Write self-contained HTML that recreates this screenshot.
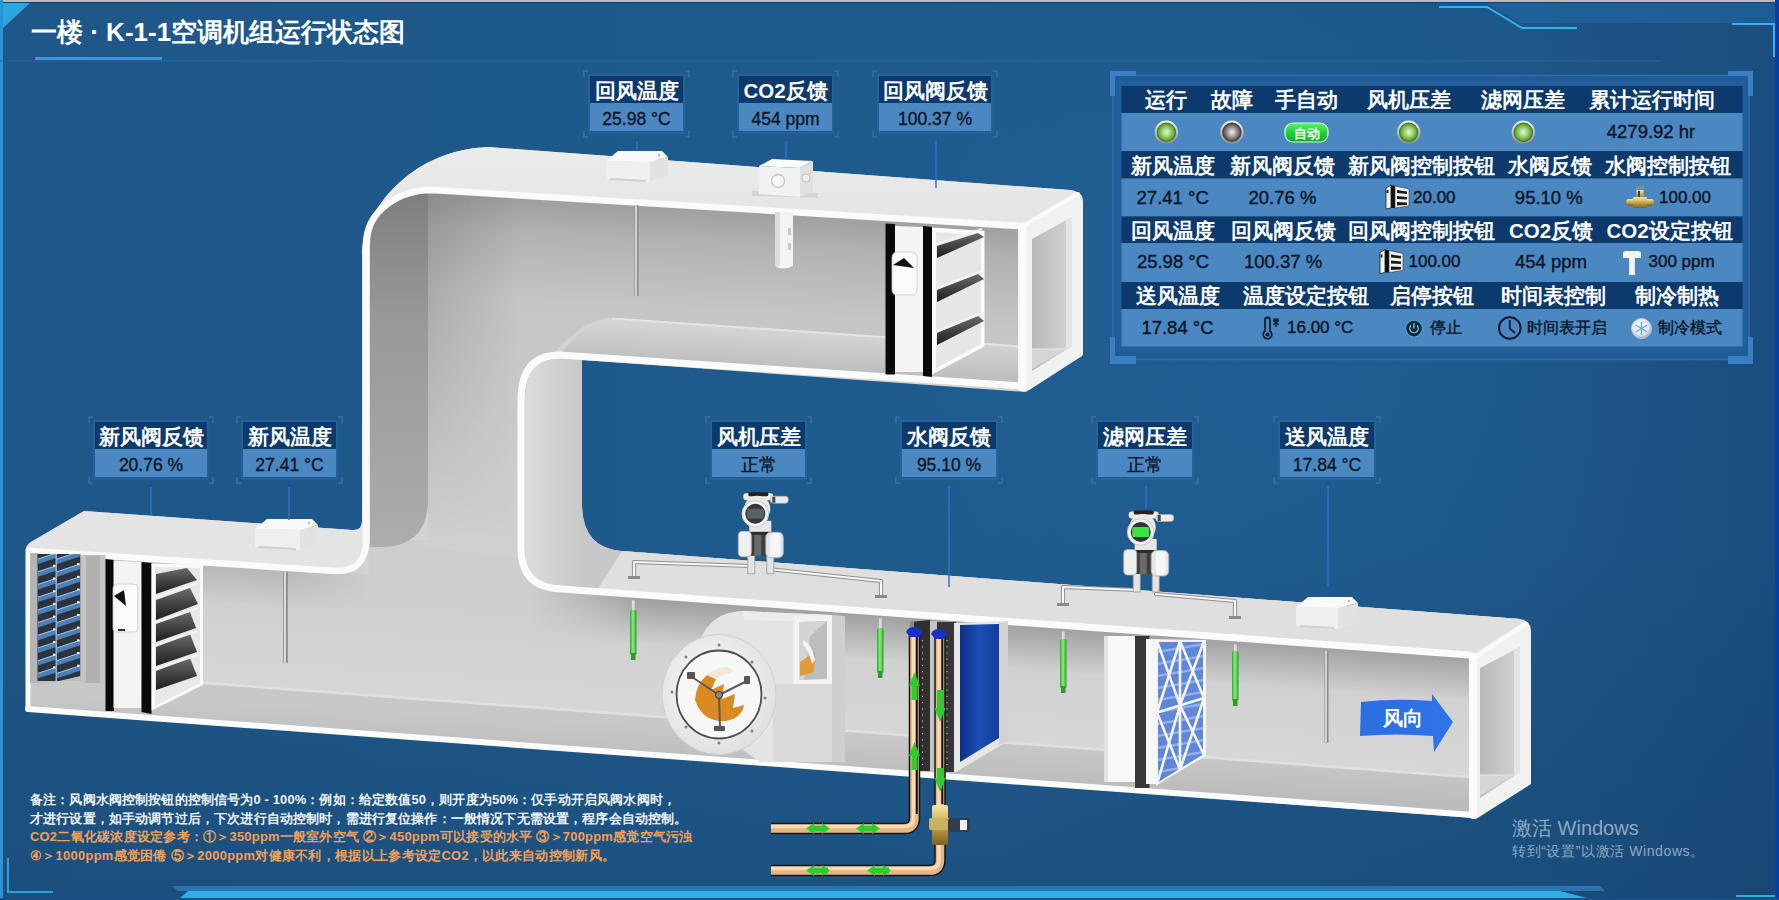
<!DOCTYPE html>
<html><head><meta charset="utf-8">
<style>
html,body{margin:0;padding:0}
body{width:1779px;height:900px;overflow:hidden;position:relative;background:#1e5a8e;font-family:"Liberation Sans",sans-serif}
.a{position:absolute}
.t{position:absolute;white-space:nowrap;text-align:center}
.hd{color:#fff;font-weight:bold;font-size:20.5px;line-height:27px}
.vl{color:#081426;font-size:18.5px;line-height:38px;-webkit-text-stroke:0.35px #081426}
.lb{position:absolute}
.lb .h{position:absolute;left:0;right:0;top:0;height:27px;background:#0c3a6c;color:#fff;font-weight:bold;font-size:20.5px;line-height:30px;text-align:center;white-space:nowrap}
.lb .v{position:absolute;left:0;right:0;top:27px;height:28px;background:#4b87c0;color:#081426;font-size:17.5px;line-height:32px;text-align:center;white-space:nowrap;-webkit-text-stroke:0.3px #081426}
.note{position:absolute;left:30px;font-size:12.9px;font-weight:bold;white-space:nowrap;line-height:18px}
</style></head><body><svg class="a" style="left:0;top:0" width="1779" height="900" viewBox="0 0 1779 900">
<defs>
 <linearGradient id="bg" x1="0" y1="0" x2="1" y2="0">
  <stop offset="0" stop-color="#1e5788"/>
  <stop offset="0.55" stop-color="#1f5b8e"/>
  <stop offset="0.85" stop-color="#1d5687"/>
  <stop offset="1" stop-color="#1a4e7e"/>
 </linearGradient>
 <linearGradient id="bgv" x1="0" y1="0" x2="0" y2="1">
  <stop offset="0" stop-color="#000" stop-opacity="0"/>
  <stop offset="0.6" stop-color="#000" stop-opacity="0"/>
  <stop offset="1" stop-color="#00081a" stop-opacity="0.1"/>
 </linearGradient>
 <radialGradient id="bgr" cx="1300" cy="330" r="420" gradientUnits="userSpaceOnUse">
  <stop offset="0" stop-color="#2a70b0" stop-opacity="0.25"/>
  <stop offset="1" stop-color="#2a70b0" stop-opacity="0"/>
 </radialGradient>
</defs>
<rect width="1779" height="900" fill="url(#bg)"/>
<rect width="1779" height="900" fill="url(#bgr)"/>
<rect width="1779" height="900" fill="url(#bgv)"/>
<polygon points="1487,3 1775,3 1775,23 1520,23" fill="#2268a8" opacity="0.55"/>
<polyline points="1439,7 1487,7 1522,28 1577,28" fill="none" stroke="#2ab4ec" stroke-width="2"/>
<!-- frame -->
<rect x="0" y="0" width="1779" height="2" fill="#b9bcc0"/>
<rect x="0" y="2" width="1779" height="1" fill="#0d3f78"/>
<rect x="0" y="0" width="3" height="900" fill="#2a95d2"/>
<rect x="1775" y="0" width="4" height="900" fill="#0a3fa0"/>
<polygon points="3,3 30,3 3,28" fill="#2aa7e0"/>
<line x1="0" y1="61" x2="1660" y2="61" stroke="#2a62a0" stroke-width="1"/>
<rect x="35" y="57" width="127" height="3" fill="#2a9fe0"/>
<polyline points="1732,24 1774,24 1774,57" fill="none" stroke="#3ab0ee" stroke-width="2"/>
<polyline points="8,858 8,892 53,892" fill="none" stroke="#2aa0dc" stroke-width="2"/>
<polygon points="172,886 1600,886 1605,891 178,891" fill="#2a74b4"/>
<polygon points="188,891 1560,891 1587,898 180,898" fill="#2bb0e6"/>
<rect x="0" y="898" width="1779" height="2" fill="#1a4f86"/>
<rect x="1736" y="895" width="39" height="2" fill="#2bb0e6"/>
</svg>
<svg class="a" style="left:0;top:0" width="1779" height="900" viewBox="0 0 1779 900">
<defs>
 <linearGradient id="topS" gradientUnits="userSpaceOnUse" x1="0" y1="140" x2="0" y2="230">
  <stop offset="0" stop-color="#ececec"/><stop offset="1" stop-color="#e4e4e4"/>
 </linearGradient>
 <linearGradient id="backG" gradientUnits="userSpaceOnUse" x1="700" y1="200" x2="680" y2="560">
  <stop offset="0" stop-color="#9a9a9a"/><stop offset="0.12" stop-color="#b2b2b2"/><stop offset="0.3" stop-color="#c5c5c5"/><stop offset="1" stop-color="#d0d0d0"/>
 </linearGradient>
 <linearGradient id="backL" gradientUnits="userSpaceOnUse" x1="428" y1="0" x2="520" y2="0">
  <stop offset="0" stop-color="#000" stop-opacity="0.13"/><stop offset="1" stop-color="#000" stop-opacity="0"/>
 </linearGradient>
 <linearGradient id="riserSide" gradientUnits="userSpaceOnUse" x1="0" y1="190" x2="0" y2="548">
  <stop offset="0" stop-color="#7e7e7e"/><stop offset="0.35" stop-color="#989898"/><stop offset="1" stop-color="#adadad"/>
 </linearGradient>
 <linearGradient id="lowBack" gradientUnits="userSpaceOnUse" x1="1000" y1="622" x2="992" y2="742">
  <stop offset="0" stop-color="#cecece"/><stop offset="0.3" stop-color="#d0d0d0"/><stop offset="1" stop-color="#d7d7d7"/>
 </linearGradient>
 <linearGradient id="lowFloor" gradientUnits="userSpaceOnUse" x1="1000" y1="742" x2="998" y2="781">
  <stop offset="0" stop-color="#c8c8c8"/><stop offset="1" stop-color="#bcbcbc"/>
 </linearGradient>
 <linearGradient id="cSurf" gradientUnits="userSpaceOnUse" x1="525" y1="0" x2="582" y2="0">
  <stop offset="0" stop-color="#dcdcdc"/><stop offset="0.6" stop-color="#d0d0d0"/><stop offset="1" stop-color="#c8c8c8"/>
 </linearGradient>
 <linearGradient id="upFloor" gradientUnits="userSpaceOnUse" x1="800" y1="332" x2="798" y2="372">
  <stop offset="0" stop-color="#d4d4d4"/><stop offset="1" stop-color="#bcbcbc"/>
 </linearGradient>
<linearGradient id="endG" gradientUnits="userSpaceOnUse" x1="1032" y1="0" x2="1072" y2="0"><stop offset="0" stop-color="#b9b9b9"/><stop offset="1" stop-color="#d3d3d3"/></linearGradient>
<linearGradient id="endG2" gradientUnits="userSpaceOnUse" x1="1480" y1="0" x2="1520" y2="0"><stop offset="0" stop-color="#b9b9b9"/><stop offset="1" stop-color="#d3d3d3"/></linearGradient>
<linearGradient id="shR" gradientUnits="userSpaceOnUse" x1="1000" y1="624" x2="997" y2="668"><stop offset="0" stop-color="#000" stop-opacity="0.22"/><stop offset="1" stop-color="#000" stop-opacity="0"/></linearGradient>
<linearGradient id="shL" gradientUnits="userSpaceOnUse" x1="200" y1="562" x2="197.4" y2="602"><stop offset="0" stop-color="#000" stop-opacity="0.12"/><stop offset="1" stop-color="#000" stop-opacity="0"/></linearGradient>
<linearGradient id="mkRg" gradientUnits="userSpaceOnUse" x1="530" y1="0" x2="640" y2="0"><stop offset="0" stop-color="#fff" stop-opacity="0"/><stop offset="1" stop-color="#fff" stop-opacity="1"/></linearGradient>
<mask id="mkR"><rect x="0" y="0" width="1779" height="900" fill="url(#mkRg)"/></mask>
<linearGradient id="mkLg" gradientUnits="userSpaceOnUse" x1="290" y1="0" x2="369" y2="0"><stop offset="0" stop-color="#fff" stop-opacity="1"/><stop offset="1" stop-color="#fff" stop-opacity="0"/></linearGradient>
<mask id="mkL"><rect x="0" y="0" width="1779" height="900" fill="url(#mkLg)"/></mask>
<linearGradient id="mkVg" gradientUnits="userSpaceOnUse" x1="0" y1="300" x2="0" y2="540"><stop offset="0" stop-color="#fff"/><stop offset="1" stop-color="#fff" stop-opacity="0"/></linearGradient>
<mask id="mkV"><rect x="0" y="0" width="1779" height="900" fill="url(#mkVg)"/></mask>
</defs>
<!-- base silhouette -->
<path d="M84 511 L352 530 Q362 531 362 521 L362 255 C362 212 410 152 482 147.5 L488 147 L1070 190 Q1082 191 1082 203 L1082 356 L1026 392 L582 360 L582 504 Q582 548 622 551 L1520 619 Q1530 620 1530 630 L1530 784 L1475 818 L26 710 L26 550 Q26 545 31 542 Z" fill="#d3d3d3"/>
<!-- lower duct back wall -->
<path d="M30 552 L369 575 L369 540 L560 540 L560 592 L1469 657 L1469 777 L30 670 Z" fill="url(#lowBack)"/>
<!-- riser + upper back wall -->
<path d="M428 189 L1020 225 L1020 346 L612 318 Q585 318 555 352 L524 395 L524 560 Q480 552 440 549 L428 547 Z" fill="url(#backG)"/>
<path d="M428 189 L524 195 L524 545 L428 545 Z" fill="url(#backL)" mask="url(#mkV)"/>
<path d="M530 588 L1469 655 L1469 705 L530 638 Z" fill="url(#shR)" mask="url(#mkR)"/>
<path d="M30 550 L369 573 L369 620 L30 597 Z" fill="url(#shL)" mask="url(#mkL)"/>
<!-- lower floor -->
<path d="M30 670 L1469 777 L1469 816 L30 708 Z" fill="url(#lowFloor)"/>
<path d="M30 670 L1469 777" stroke="#e0e0e0" stroke-width="2.5" fill="none"/>
<!-- riser side wall -->
<path d="M370 245 C370 210 400 189 432 188.5 L428 189 L428 500 Q428 547 380 547 L370 547 Z" fill="url(#riserSide)"/>
<!-- upper duct floor -->
<path d="M612 318 L1020 346 L1020 388 L560 356 Q585 320 612 318 Z" fill="url(#upFloor)"/>
<path d="M612 318.5 L1020 346.5" stroke="#e4e4e4" stroke-width="2" fill="none"/>
<!-- C outer surface -->
<path d="M582 360 L582 504 Q582 548 622 551 L1520 619 L1526 624 L1469 657 L562 590 Q525 586 525 550 L525 402 Q525 356 560 356 Z" fill="url(#cSurf)"/>
<path d="M622 551 L1520 619 L1526 624 L1469 657 L596 592 Z" fill="#dfdfdf"/>
<!-- top surface upper+riser lip+left box top -->
<path d="M26 550 Q26 545 31 542 L84 511 L352 530 Q362 531 362 521 L362 255 C362 212 410 152 482 147.5 L488 147 L1070 190 Q1078 191 1078 196 L1020 225 L432 188.5 C400 189 370 210 370 245 L370 540 Q369 572 335 571 L29 551 Z" fill="url(#topS)"/>
<!-- upper end face -->
<path d="M1018 226 L1076 192 Q1083 193 1083 202 L1083 355 L1029 390 L1018 390 Z" fill="#f1f1f1"/>
<path d="M1032 239 L1072 217 L1072 346 L1032 371 Z" fill="url(#endG)"/>
<path d="M1066 220 L1072 217 L1072 346 L1066 350 Z" fill="#e4e4e4"/>
<path d="M1032 349 L1066 349 L1032 369 Z" fill="#d6d6d6"/>
<path d="M1032 349 L1066 349" stroke="#e8e8e8" stroke-width="1.2"/>
<path d="M1023 226 L1078 194" stroke="#fafafa" stroke-width="4" stroke-linecap="round"/>
<!-- lower end face -->
<path d="M1469 657 L1525 621 Q1531 623 1531 632 L1531 784 L1476 819 L1469 815 Z" fill="#f1f1f1"/>
<path d="M1480 668 L1520 647 L1520 772 L1480 798 Z" fill="url(#endG2)"/>
<path d="M1514 650 L1520 647 L1520 772 L1514 776 Z" fill="#e4e4e4"/>
<path d="M1480 775 L1514 775 L1480 796 Z" fill="#d6d6d6"/>
<path d="M1480 775 L1514 775" stroke="#e8e8e8" stroke-width="1.2"/>
<path d="M1474 658 L1526 624" stroke="#fafafa" stroke-width="4" stroke-linecap="round"/>
<!-- lips -->
<g fill="none" stroke="#fbfbfb" stroke-linecap="round" stroke-linejoin="round">
 <path d="M1020 226 L432 190 C400 190 366 210 366 245 L366 540 Q366 572 335 571 L30 551" stroke-width="6.5"/>
 <path d="M28 550 L28 708" stroke-width="5"/>
 <path d="M28 709 L1473 815" stroke-width="6"/>
 <path d="M1022 386 L560 355 Q521 355 521 400 L521 548 Q521 588 562 589 L1470 655" stroke-width="7"/>
 <path d="M1023 226 L1023 388" stroke-width="7"/>
 <path d="M1473 657 L1473 815" stroke-width="8"/>
</g>
</svg>
<svg class="a" style="left:0;top:0" width="1779" height="900" viewBox="0 0 1779 900">
<defs>
 <linearGradient id="louv" x1="0" y1="0" x2="0" y2="1"><stop offset="0" stop-color="#5b8fc4"/><stop offset="0.35" stop-color="#2c3a48"/><stop offset="1" stop-color="#1c232b"/></linearGradient>
 <linearGradient id="blade" x1="0" y1="0" x2="0" y2="1"><stop offset="0" stop-color="#6a6a6a"/><stop offset="1" stop-color="#1c1c1c"/></linearGradient>
 <linearGradient id="coilB" x1="0" y1="0" x2="1" y2="0"><stop offset="0" stop-color="#0d2f8a"/><stop offset="0.5" stop-color="#1d4fb8"/><stop offset="1" stop-color="#123c9a"/></linearGradient>
 <linearGradient id="cu" x1="0" y1="0" x2="1" y2="0"><stop offset="0" stop-color="#111"/><stop offset="0.2" stop-color="#f6d3a6"/><stop offset="0.6" stop-color="#fde8c8"/><stop offset="0.85" stop-color="#e4b480"/><stop offset="1" stop-color="#222"/></linearGradient>
 <linearGradient id="cuh" x1="0" y1="0" x2="0" y2="1"><stop offset="0" stop-color="#222"/><stop offset="0.15" stop-color="#f7d6ab"/><stop offset="0.55" stop-color="#fde6c6"/><stop offset="0.85" stop-color="#e2b07a"/><stop offset="1" stop-color="#555"/></linearGradient>
 <linearGradient id="grn" x1="0" y1="0" x2="1" y2="0"><stop offset="0" stop-color="#2ea82e"/><stop offset="0.45" stop-color="#8cf07c"/><stop offset="1" stop-color="#2a9a2a"/></linearGradient>
 <radialGradient id="fanFace" cx="0.45" cy="0.45" r="0.6"><stop offset="0" stop-color="#ffffff"/><stop offset="1" stop-color="#dedede"/></radialGradient>
 <linearGradient id="fanBody" x1="0" y1="0" x2="0" y2="1"><stop offset="0" stop-color="#e8e8e8"/><stop offset="1" stop-color="#c8c8c8"/></linearGradient>
 <linearGradient id="sensTop" x1="0" y1="0" x2="0" y2="1"><stop offset="0" stop-color="#fafafa"/><stop offset="1" stop-color="#e6e6e6"/></linearGradient>
 <linearGradient id="filt" x1="0" y1="0" x2="1" y2="1"><stop offset="0" stop-color="#5f88d8"/><stop offset="1" stop-color="#7fa4e8"/></linearGradient>
 <linearGradient id="arrowG" x1="0" y1="0" x2="1" y2="0"><stop offset="0" stop-color="#2a6ee0"/><stop offset="1" stop-color="#2f74e8"/></linearGradient>
</defs>

<!-- ===== left box equipment ===== -->
<rect x="30" y="553" width="8" height="130" fill="#b4b4b4"/>
<rect x="37.5" y="554" width="43" height="127" fill="#2b343e"/>
<clipPath id="lclip"><rect x="37.5" y="554" width="43" height="127"/></clipPath>
<g clip-path="url(#lclip)"><path d="M38 564.0 L56 558.1 L56 558.1 L56 553.1 L38 559.0 Z" fill="#4d80b8"/><path d="M38 559.0 L56 553.1" stroke="#a8c8e8" stroke-width="1"/><rect x="53" y="552.1" width="2.5" height="2" fill="#f0f0f0"/><path d="M57 564.0 L80 556.4 L80 556.4 L80 551.4 L57 559.0 Z" fill="#4d80b8"/><path d="M57 559.0 L80 551.4" stroke="#a8c8e8" stroke-width="1"/><rect x="77" y="550.4" width="2.5" height="2" fill="#f0f0f0"/><path d="M38 576.7 L56 570.8 L56 570.8 L56 565.8 L38 571.7 Z" fill="#4d80b8"/><path d="M38 571.7 L56 565.8" stroke="#a8c8e8" stroke-width="1"/><rect x="53" y="564.8" width="2.5" height="2" fill="#f0f0f0"/><path d="M57 576.7 L80 569.1 L80 569.1 L80 564.1 L57 571.7 Z" fill="#4d80b8"/><path d="M57 571.7 L80 564.1" stroke="#a8c8e8" stroke-width="1"/><rect x="77" y="563.1" width="2.5" height="2" fill="#f0f0f0"/><path d="M38 589.4 L56 583.5 L56 583.5 L56 578.5 L38 584.4 Z" fill="#4d80b8"/><path d="M38 584.4 L56 578.5" stroke="#a8c8e8" stroke-width="1"/><rect x="53" y="577.5" width="2.5" height="2" fill="#f0f0f0"/><path d="M57 589.4 L80 581.8 L80 581.8 L80 576.8 L57 584.4 Z" fill="#4d80b8"/><path d="M57 584.4 L80 576.8" stroke="#a8c8e8" stroke-width="1"/><rect x="77" y="575.8" width="2.5" height="2" fill="#f0f0f0"/><path d="M38 602.1 L56 596.2 L56 596.2 L56 591.2 L38 597.1 Z" fill="#4d80b8"/><path d="M38 597.1 L56 591.2" stroke="#a8c8e8" stroke-width="1"/><rect x="53" y="590.2" width="2.5" height="2" fill="#f0f0f0"/><path d="M57 602.1 L80 594.5 L80 594.5 L80 589.5 L57 597.1 Z" fill="#4d80b8"/><path d="M57 597.1 L80 589.5" stroke="#a8c8e8" stroke-width="1"/><rect x="77" y="588.5" width="2.5" height="2" fill="#f0f0f0"/><path d="M38 614.8 L56 608.9 L56 608.9 L56 603.9 L38 609.8 Z" fill="#4d80b8"/><path d="M38 609.8 L56 603.9" stroke="#a8c8e8" stroke-width="1"/><rect x="53" y="602.9" width="2.5" height="2" fill="#f0f0f0"/><path d="M57 614.8 L80 607.2 L80 607.2 L80 602.2 L57 609.8 Z" fill="#4d80b8"/><path d="M57 609.8 L80 602.2" stroke="#a8c8e8" stroke-width="1"/><rect x="77" y="601.2" width="2.5" height="2" fill="#f0f0f0"/><path d="M38 627.5 L56 621.6 L56 621.6 L56 616.6 L38 622.5 Z" fill="#4d80b8"/><path d="M38 622.5 L56 616.6" stroke="#a8c8e8" stroke-width="1"/><rect x="53" y="615.6" width="2.5" height="2" fill="#f0f0f0"/><path d="M57 627.5 L80 619.9 L80 619.9 L80 614.9 L57 622.5 Z" fill="#4d80b8"/><path d="M57 622.5 L80 614.9" stroke="#a8c8e8" stroke-width="1"/><rect x="77" y="613.9" width="2.5" height="2" fill="#f0f0f0"/><path d="M38 640.2 L56 634.3 L56 634.3 L56 629.3 L38 635.2 Z" fill="#4d80b8"/><path d="M38 635.2 L56 629.3" stroke="#a8c8e8" stroke-width="1"/><rect x="53" y="628.3" width="2.5" height="2" fill="#f0f0f0"/><path d="M57 640.2 L80 632.6 L80 632.6 L80 627.6 L57 635.2 Z" fill="#4d80b8"/><path d="M57 635.2 L80 627.6" stroke="#a8c8e8" stroke-width="1"/><rect x="77" y="626.6" width="2.5" height="2" fill="#f0f0f0"/><path d="M38 652.9 L56 647.0 L56 647.0 L56 642.0 L38 647.9 Z" fill="#4d80b8"/><path d="M38 647.9 L56 642.0" stroke="#a8c8e8" stroke-width="1"/><rect x="53" y="641.0" width="2.5" height="2" fill="#f0f0f0"/><path d="M57 652.9 L80 645.3 L80 645.3 L80 640.3 L57 647.9 Z" fill="#4d80b8"/><path d="M57 647.9 L80 640.3" stroke="#a8c8e8" stroke-width="1"/><rect x="77" y="639.3" width="2.5" height="2" fill="#f0f0f0"/><path d="M38 665.6 L56 659.7 L56 659.7 L56 654.7 L38 660.6 Z" fill="#4d80b8"/><path d="M38 660.6 L56 654.7" stroke="#a8c8e8" stroke-width="1"/><rect x="53" y="653.7" width="2.5" height="2" fill="#f0f0f0"/><path d="M57 665.6 L80 658.0 L80 658.0 L80 653.0 L57 660.6 Z" fill="#4d80b8"/><path d="M57 660.6 L80 653.0" stroke="#a8c8e8" stroke-width="1"/><rect x="77" y="652.0" width="2.5" height="2" fill="#f0f0f0"/><path d="M38 678.3 L56 672.4 L56 672.4 L56 667.4 L38 673.3 Z" fill="#4d80b8"/><path d="M38 673.3 L56 667.4" stroke="#a8c8e8" stroke-width="1"/><rect x="53" y="666.4" width="2.5" height="2" fill="#f0f0f0"/><path d="M57 678.3 L80 670.7 L80 670.7 L80 665.7 L57 673.3 Z" fill="#4d80b8"/><path d="M57 673.3 L80 665.7" stroke="#a8c8e8" stroke-width="1"/><rect x="77" y="664.7" width="2.5" height="2" fill="#f0f0f0"/></g>
<rect x="55.5" y="554" width="1.5" height="127" fill="#9ab0c8"/>
<path d="M37.5 681 L80.5 681 L80.5 676 L37.5 686 Z" fill="#c0c0c0"/>
<rect x="80.5" y="555" width="25" height="128" fill="#c4c4c4"/>
<rect x="86" y="556" width="14" height="127" fill="#b0b0b0"/>
<!-- damper 1 -->
<path d="M105.5 559 L114 560 L114 711 L105.5 711 Z" fill="#0a0a0a"/>
<path d="M113.5 560.5 L141.5 562 L141.5 708 L113.5 708 Z" fill="#f4f4f4"/>
<path d="M113 589 Q113 584 118 584 L133 584 Q138 584 138 589 L138 628 Q138 632 133 632 L118 632 Q113 632 113 628 Z" fill="#fbfbfb" stroke="#c8c8c8" stroke-width="0.8"/>
<path d="M114 596 L124 590 L126 606 Z" fill="#111"/>
<rect x="118" y="629" width="7" height="2" fill="#333"/>
<path d="M141.5 562 L151.5 563 L151.5 714 L141.5 712 Z" fill="#0a0a0a"/>
<path d="M151.5 563.5 L203 564.5 L203 685 L151.5 710.5 Z" fill="#fafafa"/>
<path d="M155 567 L200 568 L200 683 L155 706 Z" fill="#e8e8e8"/>
<g fill="url(#blade)">
 <path d="M156 574 L187 568 L197 580 L156 594 Z"/>
 <path d="M156 600 L190 588 L198 604 L156 620 Z"/>
 <path d="M156 624 L190 612 L196 628 L156 642 Z"/>
 <path d="M156 647 L190 634 L197 652 L156 666 Z"/>
 <path d="M156 671 L190 658 L197 676 L156 690 Z"/>
</g>
<g stroke="#f2f2f2" stroke-width="2"><line x1="156" y1="597" x2="198" y2="583"/><line x1="156" y1="622" x2="198" y2="608"/><line x1="156" y1="645" x2="198" y2="631"/><line x1="156" y1="669" x2="198" y2="655"/></g>

<!-- fresh air temp sensor -->
<line x1="285.5" y1="572" x2="285.5" y2="663" stroke="#8a8a8a" stroke-width="4.5"/>
<line x1="285" y1="572" x2="285" y2="663" stroke="#f4f4f4" stroke-width="1.5"/>
<path d="M255 529 L267 519 L312 519 L318 525 L300 530 Z" fill="#f9f9f9"/>
<path d="M255 529 L300 530 L300 550 L255 547 Z" fill="#efefef"/>
<path d="M300 530 L318 525 L318 543 L300 550 Z" fill="#e2e2e2"/>
<path d="M259 547 L296 549" stroke="#d0d0d0" stroke-width="2"/>
<circle cx="309" cy="523" r="1.2" fill="#bbb"/>

<!-- ===== upper duct equipment ===== -->
<!-- return temp probe -->
<line x1="636.5" y1="205" x2="636.5" y2="296" stroke="#8a8a8a" stroke-width="4"/>
<line x1="636" y1="205" x2="636" y2="296" stroke="#f2f2f2" stroke-width="1.4"/>
<path d="M606 161 L618 151 L662 151 L668 157 L650 162 Z" fill="#f9f9f9"/>
<path d="M606 161 L650 162 L650 182 L606 179 Z" fill="#efefef"/>
<path d="M650 162 L668 157 L668 175 L650 182 Z" fill="#e2e2e2"/>
<path d="M610 179 L646 181" stroke="#d0d0d0" stroke-width="2"/>
<circle cx="659" cy="155" r="1.2" fill="#bbb"/>
<!-- co2 sensor -->
<path d="M775 212 L793 212 L793 266 Q784 271 775 266 Z" fill="#f3f3f3"/>
<rect x="775" y="212" width="5" height="54" fill="#dedede"/>
<rect x="788" y="228" width="3" height="7" fill="#c8c8c8"/><rect x="788" y="243" width="3" height="7" fill="#c8c8c8"/>
<path d="M752 191 L818 193 L818 198 L752 196 Z" fill="#d4d4d4"/>
<path d="M759 166 L772 159 L813 161 L800 168 Z" fill="#fbfbfb"/>
<path d="M759 166 L800 168 L800 197 L759 194 Z" fill="#f2f2f2"/>
<path d="M800 168 L813 161 L813 191 L800 197 Z" fill="#e0e0e0"/>
<circle cx="778" cy="181" r="6.5" fill="#f6f6f6" stroke="#c4c4c4" stroke-width="1.3"/>
<circle cx="806" cy="178" r="4" fill="#eeeeee" stroke="#c8c8c8" stroke-width="1"/>
<!-- upper damper -->
<path d="M885.5 223.5 L895 224 L895 374.5 L885.5 374.5 Z" fill="#0a0a0a"/>
<path d="M895 226 L923 227 L923 372 L895 372 Z" fill="#f4f4f4"/>
<path d="M892 258 Q892 252 898 252 L911 252 Q917 252 917 258 L917 290 Q917 295 911 295 L898 295 Q892 295 892 290 Z" fill="#fbfbfb" stroke="#c8c8c8" stroke-width="0.8"/>
<path d="M893 265 L904 258 L914 268 Z" fill="#111"/>
<path d="M923 226 L932 227 L932 377 L923 376 Z" fill="#0a0a0a"/>
<path d="M932 227.5 L984.5 231 L984.5 346.5 L932 374.5 Z" fill="#fafafa"/>
<path d="M936 232 L981 235 L981 344 L936 368 Z" fill="#e6e6e6"/>
<g fill="url(#blade)">
 <path d="M937 246 L978 233 L984 237 L937 258 Z"/>
 <path d="M937 290 L978 274 L984 279 L937 302 Z"/>
 <path d="M937 333 L978 316 L984 321 L937 345 Z"/>
</g>
<g stroke="#f4f4f4" stroke-width="2"><line x1="937" y1="244" x2="982" y2="229"/><line x1="937" y1="288" x2="982" y2="271"/><line x1="937" y1="331" x2="982" y2="313"/></g>

<!-- ===== lower duct equipment ===== -->
<!-- green sensors -->
<rect x="631.5" y="600" width="3.5" height="11" fill="#dcdcdc" stroke="#999" stroke-width="0.5"/>
<rect x="630" y="610" width="6.5" height="45" rx="1.5" fill="url(#grn)"/>
<rect x="631" y="653" width="4.5" height="7" fill="#2c9a2c"/>
<rect x="878.5" y="618" width="3.5" height="11" fill="#dcdcdc" stroke="#999" stroke-width="0.5"/>
<rect x="877" y="628" width="6.5" height="45" rx="1.5" fill="url(#grn)"/>
<rect x="878" y="671" width="4.5" height="7" fill="#2c9a2c"/>
<rect x="1061.5" y="631" width="3.5" height="9" fill="#dcdcdc" stroke="#999" stroke-width="0.5"/>
<rect x="1060" y="639" width="6.5" height="49" rx="1.5" fill="url(#grn)"/>
<rect x="1061" y="686" width="4.5" height="7" fill="#2c9a2c"/>
<rect x="1233.5" y="644" width="3.5" height="8" fill="#dcdcdc" stroke="#999" stroke-width="0.5"/>
<rect x="1232" y="651" width="6.5" height="50" rx="1.5" fill="url(#grn)"/>
<rect x="1233" y="699" width="4.5" height="7" fill="#2c9a2c"/>

<!-- fan -->
<path d="M831 615 L845 616 L845 762 L831 762 Z" fill="#cfcfcf"/>
<path d="M700 640 Q712 612 742 611 L832 615 L832 762 L760 762 L700 720 Z" fill="#e4e4e4"/>
<path d="M773 684 L832 684 L832 762 L773 762 Z" fill="#dadada"/>
<path d="M742 611 L832 615 L832 622 L745 620 Z" fill="#ececec"/>
<path d="M793.5 616 L832 615 L832 684 L793.5 684 Z" fill="#f2f2f2"/>
<path d="M799 622 L827 621 L827 679 L799 680 Z" fill="#bdbdbd"/>
<path d="M799 622 L827 621 L810 636 L804 680 L799 680 Z" fill="#d4d4d4"/>
<path d="M800 662 L815 652 L814 672 L800 676 Z" fill="#e09a3a"/>
<path d="M803 640 Q812 644 815 660 L812 664 Q808 648 803 645 Z" fill="#f4f4f4"/>
<ellipse cx="719" cy="694.5" rx="57" ry="60" fill="url(#fanFace)"/>
<ellipse cx="719" cy="694.5" rx="57" ry="60" fill="none" stroke="#cfcfcf" stroke-width="1"/>
<ellipse cx="719" cy="694.5" rx="42.5" ry="44" fill="#f7f7f7" stroke="#4e4e4e" stroke-width="1.8"/>
<path d="M695 700 Q696 684 707 675 L716 679 L711 690 L724 684 L722 699 L735 694 L733 708 L744 705 Q742 718 726 721 Q703 723 695 700 Z" fill="#d98a22"/>
<path d="M707 675 Q716 667 728 667 L733 671 L716 679 Z" fill="#f2e8d8"/>
<g stroke="#5a5a5a" stroke-width="2" fill="none"><line x1="692" y1="677" x2="719" y2="695"/><line x1="747" y1="681" x2="719" y2="695"/><line x1="719" y1="695" x2="720" y2="727"/></g>
<circle cx="719" cy="695" r="3.5" fill="#8a8a8a" stroke="#333" stroke-width="1"/>
<rect x="687" y="672" width="8" height="7" rx="1" fill="#555"/><rect x="744" y="676" width="6" height="8" rx="1" fill="#555"/><rect x="714" y="726" width="11" height="5" rx="1" fill="#555"/>
<g fill="#808080"><circle cx="719" cy="645" r="1.5"/><circle cx="686" cy="657" r="1.5"/><circle cx="672" cy="692" r="1.5"/><circle cx="686" cy="727" r="1.5"/><circle cx="719" cy="743" r="1.5"/><circle cx="752" cy="731" r="1.5"/><circle cx="765" cy="698" r="1.5"/><circle cx="752" cy="662" r="1.5"/></g>

<!-- coil -->
<path d="M910 622 L930 620 L930 771 L910 771 Z" fill="#303030"/>
<path d="M910 622 L914 622 L914 771 L910 771 Z" fill="#8a8a8a"/>
<path d="M930 621 L937 621 L937 772 L930 772 Z" fill="#c4c4c4"/>
<path d="M937 622 L956 622 L956 772 L937 772 Z" fill="#363636"/>
<g stroke="#b8b8b8" stroke-width="1.2" stroke-dasharray="1.2 5"><line x1="922.5" y1="640" x2="922.5" y2="765"/><line x1="947" y1="640" x2="947" y2="765"/></g>
<path d="M954 623 L1008 621 L1008 741 L956 772 L954 772 Z" fill="#e6e6e6"/>
<path d="M999 623 L1008 621 L1008 741 L999 745 Z" fill="#d2d2d2"/>
<path d="M960 625 L999 624 L999 738 L960 762 Z" fill="url(#coilB)"/>
<!-- copper pipes -->
<path d="M914.5 632 L914.5 818 Q914.5 828.5 904 828.5 L771 828.5" fill="none" stroke="#151515" stroke-width="11.5"/>
<path d="M914.5 632 L914.5 818 Q914.5 828.5 904 828.5 L771 828.5" fill="none" stroke="#e6b682" stroke-width="8.5"/>
<path d="M913.5 632 L913.5 818 Q913.5 826.5 904 826.5 L771 826.5" fill="none" stroke="#f8dab4" stroke-width="3.5"/>
<line x1="916.8" y1="636" x2="916.8" y2="814" stroke="#121212" stroke-width="2"/>
<path d="M940 632 L940 860 Q940 870.5 929.5 870.5 L771 870.5" fill="none" stroke="#151515" stroke-width="11.5"/>
<path d="M940 632 L940 860 Q940 870.5 929.5 870.5 L771 870.5" fill="none" stroke="#e6b682" stroke-width="8.5"/>
<path d="M939 632 L939 860 Q939 868.5 929.5 868.5 L771 868.5" fill="none" stroke="#f8dab4" stroke-width="3.5"/>
<line x1="942.3" y1="636" x2="942.3" y2="804" stroke="#121212" stroke-width="2"/>
<g fill="#2ecc2e">
 <path d="M914.5 672 L909 686 L920 686 Z"/><rect x="911.5" y="685" width="6" height="15"/>
 <path d="M914.5 742 L909 756 L920 756 Z"/><rect x="911.5" y="755" width="6" height="15"/>
 <path d="M940 722 L934.5 708 L945.5 708 Z"/><rect x="937" y="690" width="6" height="19"/>
 <path d="M940 792 L934.5 778 L945.5 778 Z"/><rect x="937" y="768" width="6" height="11"/>
 <rect x="810" y="825.5" width="16" height="6"/><path d="M806 828.5 L814 823 L814 834 Z"/><path d="M830 828.5 L822 823 L822 834 Z"/>
 <rect x="860" y="825.5" width="16" height="6"/><path d="M856 828.5 L864 823 L864 834 Z"/><path d="M880 828.5 L872 823 L872 834 Z"/>
 <rect x="812" y="867.5" width="16" height="6"/><path d="M806 870.5 L814 865 L814 876 Z"/><path d="M830 870.5 L822 865 L822 876 Z"/>
 <rect x="873" y="867.5" width="16" height="6"/><path d="M867 870.5 L875 865 L875 876 Z"/><path d="M891 870.5 L883 865 L883 876 Z"/>
</g>
<path d="M906 632 Q908 627 914 627 Q920 627 922 632 L919 637 L910 637 Z" fill="#1830c8"/>
<path d="M931 634 Q933 629 939 629 Q945 629 947 634 L944 639 L935 639 Z" fill="#1830c8"/>
<!-- valve -->
<rect x="932" y="805" width="16" height="40" rx="2" fill="url(#brass)"/>
<rect x="929" y="818" width="22" height="12" rx="2" fill="#c9b064"/>
<rect x="948" y="818" width="22" height="14" rx="3" fill="#2f3d4d"/>
<rect x="960" y="820" width="7" height="10" fill="#f0f0f0"/>

<!-- filter -->
<path d="M1104 636 L1135 636 L1135 782 L1104 782 Z" fill="#f8f8f8"/>
<path d="M1104 636 L1108 636 L1108 782 L1104 782 Z" fill="#e4e4e4"/>
<path d="M1135 636 L1149.5 636 L1149.5 788 L1135 788 Z" fill="#383838"/>
<path d="M1146 639 L1206 640 L1206 756 L1157 784 L1146 784 Z" fill="#f6f6f6"/>
<clipPath id="fclip"><path d="M1157 641 L1204 641 L1204 755.0 L1157 784.0 Z"/></clipPath>
<g clip-path="url(#fclip)">
<rect x="1157" y="636" width="47" height="150" fill="#5f86d8"/>
<path d="M1157 652.0 L1204 644.0" stroke="#8fb0f0" stroke-width="2.5"/><path d="M1157 664.0 L1204 656.0" stroke="#8fb0f0" stroke-width="2.5"/><path d="M1157 676.0 L1204 668.0" stroke="#8fb0f0" stroke-width="2.5"/><path d="M1157 688.0 L1204 680.0" stroke="#8fb0f0" stroke-width="2.5"/><path d="M1157 700.0 L1204 692.0" stroke="#8fb0f0" stroke-width="2.5"/><path d="M1157 712.0 L1204 704.0" stroke="#8fb0f0" stroke-width="2.5"/><path d="M1157 724.0 L1204 716.0" stroke="#8fb0f0" stroke-width="2.5"/><path d="M1157 736.0 L1204 728.0" stroke="#8fb0f0" stroke-width="2.5"/><path d="M1157 748.0 L1204 740.0" stroke="#8fb0f0" stroke-width="2.5"/><path d="M1157 760.0 L1204 752.0" stroke="#8fb0f0" stroke-width="2.5"/><path d="M1157 772.0 L1204 764.0" stroke="#8fb0f0" stroke-width="2.5"/><path d="M1157 784.0 L1204 776.0" stroke="#8fb0f0" stroke-width="2.5"/>
</g>
<path d="M1180 641 L1180 769.8 M1157 712.5 L1204 698.0 M1157 641 L1180 705.4 M1180 641 L1157 712.5 M1157 712.5 L1180 769.8 M1180 705.4 L1157 784.0 M1180 641 L1204 698.0 M1204 641 L1180 705.4 M1180 705.4 L1204 755.0 M1204 698.0 L1180 769.8" stroke="#f4f4f4" stroke-width="2.6" fill="none"/>
<path d="M1157 641 L1204 641 L1204 755.0 L1157 784.0 Z" stroke="#f4f4f4" stroke-width="2" fill="none"/>

<!-- supply temp sensor -->
<line x1="1326.5" y1="651" x2="1326.5" y2="743" stroke="#8a8a8a" stroke-width="4"/>
<line x1="1326" y1="651" x2="1326" y2="743" stroke="#f2f2f2" stroke-width="1.4"/>
<path d="M1296 607 L1308 597 L1352 597 L1358 603 L1338 608 Z" fill="#f9f9f9"/>
<path d="M1296 607 L1338 608 L1338 629 L1296 626 Z" fill="#efefef"/>
<path d="M1338 608 L1358 603 L1358 622 L1338 629 Z" fill="#e2e2e2"/>
<path d="M1300 626 L1334 628" stroke="#d0d0d0" stroke-width="2"/>
<circle cx="1349" cy="601" r="1.2" fill="#bbb"/>

<!-- air direction arrow -->
<path d="M1361 702 Q1395 698 1432 701 L1432 694 L1453 722 L1434 752 L1433 736 Q1396 733 1360 736 Z" fill="url(#arrowG)"/>
<text x="1402.5" y="725" font-size="20" font-weight="bold" fill="#fff" text-anchor="middle" font-family="Liberation Sans, sans-serif">风向</text>

<!-- differential pressure transmitters -->
<g fill="none" stroke-linejoin="round" stroke-linecap="round">
 <path d="M751 566 L634 562 L634 577" stroke="#8e8e8e" stroke-width="4.2"/><path d="M768 569 L881 581 L881 596" stroke="#8e8e8e" stroke-width="4.2"/>
 <path d="M751 566 L634 562 L634 577" stroke="#f7f7f7" stroke-width="2.2"/><path d="M768 569 L881 581 L881 596" stroke="#f7f7f7" stroke-width="2.2"/>
</g>
<rect x="628" y="576" width="12" height="3" fill="#8a8a8a"/><rect x="875" y="595" width="12" height="3" fill="#8a8a8a"/>
<g transform="translate(755.3,513.8)">
 <rect x="-7.5" y="40" width="7" height="20" fill="#e4e4e4" stroke="#9a9a9a" stroke-width="0.8"/>
 <rect x="11.5" y="40" width="7" height="20" fill="#e4e4e4" stroke="#9a9a9a" stroke-width="0.8"/>
 <rect x="-6" y="7" width="22" height="15" fill="#e6e6e6"/>
 <rect x="-6" y="18" width="22" height="5" fill="#2a2a2a"/>
 <rect x="-6" y="21" width="18" height="21" fill="#3c3c3c"/>
 <rect x="-1" y="21" width="7" height="21" fill="#6a6a6a"/>
 <rect x="-17" y="17.5" width="13" height="25.5" rx="4" fill="#f0f0f0" stroke="#b0b0b0" stroke-width="0.8"/>
 <rect x="10.5" y="18.5" width="17.5" height="25.5" rx="5" fill="#e6e6e6" stroke="#b0b0b0" stroke-width="0.8"/>
 <rect x="15" y="19" width="10" height="24" rx="4" fill="#f6f6f6"/>
 <rect x="-12" y="-20.5" width="30" height="7" rx="3" fill="#ececec"/>
 <rect x="-7" y="-21.5" width="20" height="4" rx="1.5" fill="#222"/>
 <rect x="15" y="-17.5" width="18" height="7" rx="3" fill="#eaeaea" stroke="#aaa" stroke-width="0.6"/>
 <rect x="17" y="-17" width="3" height="6" fill="#444"/>
 <circle cx="2" cy="-5" r="13" fill="#e8e8e8"/>
 <circle cx="0" cy="0" r="13.3" fill="#f4f4f4" stroke="#c8c8c8" stroke-width="1"/>
 <circle cx="0" cy="0" r="10" fill="#30363c"/>
 <rect x="-8.5" y="-5" width="17" height="10" rx="1" fill="#5a6068"/>
</g>
<g fill="none" stroke-linejoin="round" stroke-linecap="round">
 <path d="M1137 590 L1063 587 L1063 604" stroke="#8e8e8e" stroke-width="4.2"/><path d="M1156 594 L1235 601 L1235 617" stroke="#8e8e8e" stroke-width="4.2"/>
 <path d="M1137 590 L1063 587 L1063 604" stroke="#f7f7f7" stroke-width="2.2"/><path d="M1156 594 L1235 601 L1235 617" stroke="#f7f7f7" stroke-width="2.2"/>
</g>
<rect x="1057" y="603" width="12" height="3" fill="#8a8a8a"/><rect x="1229" y="616" width="12" height="3" fill="#8a8a8a"/>
<g transform="translate(1140.7,532)">
 <rect x="-7.5" y="40" width="7" height="20" fill="#e4e4e4" stroke="#9a9a9a" stroke-width="0.8"/>
 <rect x="11.5" y="40" width="7" height="20" fill="#e4e4e4" stroke="#9a9a9a" stroke-width="0.8"/>
 <rect x="-6" y="7" width="22" height="15" fill="#e6e6e6"/>
 <rect x="-6" y="18" width="22" height="5" fill="#2a2a2a"/>
 <rect x="-6" y="21" width="18" height="21" fill="#3c3c3c"/>
 <rect x="-1" y="21" width="7" height="21" fill="#6a6a6a"/>
 <rect x="-17" y="17.5" width="13" height="25.5" rx="4" fill="#f0f0f0" stroke="#b0b0b0" stroke-width="0.8"/>
 <rect x="10.5" y="18.5" width="17.5" height="25.5" rx="5" fill="#e6e6e6" stroke="#b0b0b0" stroke-width="0.8"/>
 <rect x="15" y="19" width="10" height="24" rx="4" fill="#f6f6f6"/>
 <rect x="-12" y="-20.5" width="30" height="7" rx="3" fill="#ececec"/>
 <rect x="-7" y="-21.5" width="20" height="4" rx="1.5" fill="#222"/>
 <rect x="15" y="-17.5" width="18" height="7" rx="3" fill="#eaeaea" stroke="#aaa" stroke-width="0.6"/>
 <rect x="17" y="-17" width="3" height="6" fill="#444"/>
 <circle cx="2" cy="-5" r="13" fill="#e8e8e8"/>
 <circle cx="0" cy="0" r="13.3" fill="#f4f4f4" stroke="#c8c8c8" stroke-width="1"/>
 <circle cx="0" cy="0" r="10" fill="#30363c"/>
 <rect x="-8.5" y="-5" width="17" height="10" rx="1" fill="#3ee23e"/>
</g>
</svg>
<div class="t" style="left:31px;top:15px;font-size:26px;font-weight:bold;color:#fff;line-height:34px">一楼 · K-1-1空调机组运行状态图</div>
<svg class="a" style="left:0;top:0" width="1779" height="900"><path d="M588 71 L584 71 L584 77 M685 71 L689 71 L689 77 M584 131 L584 137 L588 137 M689 131 L689 137 L685 137" stroke="#3b6fa6" stroke-width="1.5" fill="none"/><rect x="589" y="75" width="95" height="58" fill="none" stroke="#2a6aa6" stroke-width="1"/><line x1="637" y1="141" x2="637" y2="150" stroke="#2f6fd0" stroke-width="1.5"/><path d="M737 71 L733 71 L733 77 M834 71 L838 71 L838 77 M733 131 L733 137 L737 137 M838 131 L838 137 L834 137" stroke="#3b6fa6" stroke-width="1.5" fill="none"/><rect x="738" y="75" width="95" height="58" fill="none" stroke="#2a6aa6" stroke-width="1"/><line x1="786" y1="141" x2="786" y2="159" stroke="#2f6fd0" stroke-width="1.5"/><path d="M877 71 L873 71 L873 77 M993 71 L997 71 L997 77 M873 131 L873 137 L877 137 M997 131 L997 137 L993 137" stroke="#3b6fa6" stroke-width="1.5" fill="none"/><rect x="878" y="75" width="114" height="58" fill="none" stroke="#2a6aa6" stroke-width="1"/><line x1="936" y1="141" x2="936" y2="188" stroke="#2f6fd0" stroke-width="1.5"/><path d="M93 417 L89 417 L89 423 M209 417 L213 417 L213 423 M89 477 L89 483 L93 483 M213 477 L213 483 L209 483" stroke="#3b6fa6" stroke-width="1.5" fill="none"/><rect x="94" y="421" width="114" height="58" fill="none" stroke="#2a6aa6" stroke-width="1"/><line x1="151" y1="487" x2="151" y2="515" stroke="#2f6fd0" stroke-width="1.5"/><path d="M241 417 L237 417 L237 423 M338 417 L342 417 L342 423 M237 477 L237 483 L241 483 M342 477 L342 483 L338 483" stroke="#3b6fa6" stroke-width="1.5" fill="none"/><rect x="242" y="421" width="95" height="58" fill="none" stroke="#2a6aa6" stroke-width="1"/><line x1="289" y1="487" x2="289" y2="520" stroke="#2f6fd0" stroke-width="1.5"/><path d="M710 417 L706 417 L706 423 M807 417 L811 417 L811 423 M706 477 L706 483 L710 483 M811 477 L811 483 L807 483" stroke="#3b6fa6" stroke-width="1.5" fill="none"/><rect x="711" y="421" width="95" height="58" fill="none" stroke="#2a6aa6" stroke-width="1"/><path d="M900 417 L896 417 L896 423 M998 417 L1002 417 L1002 423 M896 477 L896 483 L900 483 M1002 477 L1002 483 L998 483" stroke="#3b6fa6" stroke-width="1.5" fill="none"/><rect x="901" y="421" width="96" height="58" fill="none" stroke="#2a6aa6" stroke-width="1"/><line x1="949" y1="486" x2="949" y2="587" stroke="#2f6fd0" stroke-width="1.5"/><path d="M1096 417 L1092 417 L1092 423 M1194 417 L1198 417 L1198 423 M1092 477 L1092 483 L1096 483 M1198 477 L1198 483 L1194 483" stroke="#3b6fa6" stroke-width="1.5" fill="none"/><rect x="1097" y="421" width="96" height="58" fill="none" stroke="#2a6aa6" stroke-width="1"/><line x1="1146" y1="486" x2="1146" y2="509" stroke="#2f6fd0" stroke-width="1.5"/><path d="M1278 417 L1274 417 L1274 423 M1376 417 L1380 417 L1380 423 M1274 477 L1274 483 L1278 483 M1380 477 L1380 483 L1376 483" stroke="#3b6fa6" stroke-width="1.5" fill="none"/><rect x="1279" y="421" width="96" height="58" fill="none" stroke="#2a6aa6" stroke-width="1"/><line x1="1328" y1="486" x2="1328" y2="587" stroke="#2f6fd0" stroke-width="1.5"/></svg>
<div class="lb" style="left:590px;top:76px;width:93px;height:56px"><div class="h">回风温度</div><div class="v">25.98 °C</div></div>
<div class="lb" style="left:739px;top:76px;width:93px;height:56px"><div class="h">CO2反馈</div><div class="v">454 ppm</div></div>
<div class="lb" style="left:879px;top:76px;width:112px;height:56px"><div class="h">回风阀反馈</div><div class="v">100.37 %</div></div>
<div class="lb" style="left:95px;top:422px;width:112px;height:56px"><div class="h">新风阀反馈</div><div class="v">20.76 %</div></div>
<div class="lb" style="left:243px;top:422px;width:93px;height:56px"><div class="h">新风温度</div><div class="v">27.41 °C</div></div>
<div class="lb" style="left:712px;top:422px;width:93px;height:56px"><div class="h">风机压差</div><div class="v">正常</div></div>
<div class="lb" style="left:902px;top:422px;width:94px;height:56px"><div class="h">水阀反馈</div><div class="v">95.10 %</div></div>
<div class="lb" style="left:1098px;top:422px;width:94px;height:56px"><div class="h">滤网压差</div><div class="v">正常</div></div>
<div class="lb" style="left:1280px;top:422px;width:94px;height:56px"><div class="h">送风温度</div><div class="v">17.84 °C</div></div>
<svg class="a" style="left:0;top:0" width="1779" height="900">
<rect x="1113" y="75.5" width="636" height="284" fill="#1f5b95" stroke="#2f6fae" stroke-width="1.5"/>
<rect x="1116" y="80" width="630" height="272" fill="#215e9a"/>
<path d="M1110 96 L1110 71 L1136 71 L1136 76 L1115 76 L1115 96 Z" fill="#3c7ec6"/>
<path d="M1753 96 L1753 71 L1728 71 L1728 76 L1748 76 L1748 96 Z" fill="#3c7ec6"/>
<path d="M1110 337 L1110 364 L1136 364 L1136 356 L1115 356 L1115 337 Z" fill="#3c7ec6"/>
<path d="M1753 337 L1753 364 L1728 364 L1728 356 L1748 356 L1748 337 Z" fill="#3c7ec6"/>
<rect x="1121.5" y="86" width="621" height="27" fill="#0c3a6c"/>
<rect x="1121.5" y="113" width="621" height="38" fill="#4b87c0"/>
<rect x="1121.5" y="151" width="621" height="27.5" fill="#0c3a6c"/>
<rect x="1121.5" y="178.5" width="621" height="38.0" fill="#4b87c0"/>
<rect x="1121.5" y="216.5" width="621" height="26.5" fill="#0c3a6c"/>
<rect x="1121.5" y="243" width="621" height="39" fill="#4b87c0"/>
<rect x="1121.5" y="282" width="621" height="27" fill="#0c3a6c"/>
<rect x="1121.5" y="309" width="621" height="37.5" fill="#4b87c0"/>
</svg>
<div class="t hd" style="left:1066px;width:200px;top:86px;">运行</div>
<div class="t hd" style="left:1132px;width:200px;top:86px;">故障</div>
<div class="t hd" style="left:1206px;width:200px;top:86px;">手自动</div>
<div class="t hd" style="left:1309px;width:200px;top:86px;">风机压差</div>
<div class="t hd" style="left:1423px;width:200px;top:86px;">滤网压差</div>
<div class="t hd" style="left:1551.5px;width:200px;top:86px;">累计运行时间</div>
<div class="t hd" style="left:1073px;width:200px;top:151.5px;">新风温度</div>
<div class="t hd" style="left:1182.8px;width:200px;top:151.5px;">新风阀反馈</div>
<div class="t hd" style="left:1321px;width:200px;top:151.5px;">新风阀控制按钮</div>
<div class="t hd" style="left:1450px;width:200px;top:151.5px;">水阀反馈</div>
<div class="t hd" style="left:1568.4px;width:200px;top:151.5px;">水阀控制按钮</div>
<div class="t hd" style="left:1073px;width:200px;top:216.5px;">回风温度</div>
<div class="t hd" style="left:1183px;width:200px;top:216.5px;">回风阀反馈</div>
<div class="t hd" style="left:1321px;width:200px;top:216.5px;">回风阀控制按钮</div>
<div class="t hd" style="left:1451px;width:200px;top:216.5px;">CO2反馈</div>
<div class="t hd" style="left:1569.5px;width:200px;top:216.5px;">CO2设定按钮</div>
<div class="t hd" style="left:1077.5px;width:200px;top:282px;">送风温度</div>
<div class="t hd" style="left:1206px;width:200px;top:282px;">温度设定按钮</div>
<div class="t hd" style="left:1332px;width:200px;top:282px;">启停按钮</div>
<div class="t hd" style="left:1453.7px;width:200px;top:282px;">时间表控制</div>
<div class="t hd" style="left:1577px;width:200px;top:282px;">制冷制热</div>
<div class="t vl" style="left:1551px;width:200px;top:113px;">4279.92 hr</div>
<div class="t vl" style="left:1072.7px;width:200px;top:178.5px;">27.41 °C</div>
<div class="t vl" style="left:1182.5px;width:200px;top:178.5px;">20.76 %</div>
<div class="t vl" style="left:1448.8px;width:200px;top:178.5px;">95.10 %</div>
<div class="t vl" style="left:1073px;width:200px;top:243px;">25.98 °C</div>
<div class="t vl" style="left:1183px;width:200px;top:243px;">100.37 %</div>
<div class="t vl" style="left:1451px;width:200px;top:243px;">454 ppm</div>
<div class="t vl" style="left:1077.5px;width:200px;top:309px;">17.84 °C</div>
<div class="t vl" style="left:1413px;top:178.5px;text-align:left;font-size:17px">20.00</div>
<div class="t vl" style="left:1659px;top:178.5px;text-align:left;font-size:17px">100.00</div>
<div class="t vl" style="left:1408.5px;top:243px;text-align:left;font-size:17px">100.00</div>
<div class="t vl" style="left:1648.5px;top:243px;text-align:left;font-size:17px">300 ppm</div>
<div class="t vl" style="left:1287px;top:309px;text-align:left;font-size:17px">16.00 °C</div>
<div class="t vl" style="left:1430px;top:309px;text-align:left;font-size:16px">停止</div>
<div class="t vl" style="left:1527px;top:309px;text-align:left;font-size:16px">时间表开启</div>
<div class="t vl" style="left:1658px;top:309px;text-align:left;font-size:16px">制冷模式</div>
<svg class="a" style="left:0;top:0" width="1779" height="900">
<defs>
 <radialGradient id="ledG" cx="0.5" cy="0.5" r="0.5"><stop offset="0" stop-color="#e8f5dc"/><stop offset="0.45" stop-color="#9fd678"/><stop offset="0.85" stop-color="#5ca332"/><stop offset="1" stop-color="#2d5a18"/></radialGradient>
 <radialGradient id="ledY" cx="0.5" cy="0.5" r="0.5"><stop offset="0" stop-color="#f2f2f2"/><stop offset="0.45" stop-color="#a8a0a0"/><stop offset="0.85" stop-color="#5a5454"/><stop offset="1" stop-color="#2a2828"/></radialGradient>
 <linearGradient id="ring" x1="0" y1="0" x2="0" y2="1"><stop offset="0" stop-color="#f4f4f4"/><stop offset="1" stop-color="#8a8a8a"/></linearGradient>
 <linearGradient id="pill" x1="0" y1="0" x2="0" y2="1"><stop offset="0" stop-color="#5df26a"/><stop offset="0.5" stop-color="#1fd33a"/><stop offset="1" stop-color="#12a82a"/></linearGradient>
 <linearGradient id="brass" x1="0" y1="0" x2="0" y2="1"><stop offset="0" stop-color="#f4e6a8"/><stop offset="0.5" stop-color="#c8a848"/><stop offset="1" stop-color="#7a6020"/></linearGradient>
 <radialGradient id="snowB" cx="0.45" cy="0.4" r="0.6"><stop offset="0" stop-color="#ffffff"/><stop offset="0.7" stop-color="#dfe6ee"/><stop offset="1" stop-color="#9aa8b8"/></radialGradient>
</defs>
<g>
 <circle cx="1166.4" cy="132.2" r="11.6" fill="url(#ring)"/><circle cx="1166.4" cy="132.2" r="9.6" fill="url(#ledG)"/>
 <circle cx="1231.9" cy="132.2" r="11.6" fill="url(#ring)"/><circle cx="1231.9" cy="132.2" r="9.6" fill="url(#ledY)"/>
 <circle cx="1408.7" cy="132.2" r="11.6" fill="url(#ring)"/><circle cx="1408.7" cy="132.2" r="9.6" fill="url(#ledG)"/>
 <circle cx="1523.3" cy="132.2" r="11.6" fill="url(#ring)"/><circle cx="1523.3" cy="132.2" r="9.6" fill="url(#ledG)"/>
 <rect x="1285" y="123" width="43" height="19" rx="8" fill="url(#pill)" stroke="#d8ffd8" stroke-width="1.2"/>
 <text x="1306.5" y="137.5" font-size="13" font-weight="bold" fill="#fff" text-anchor="middle" font-family="Liberation Sans, sans-serif">自动</text>
</g>
<!-- damper icons -->
<g id="dmp">
 <path d="M1386 188 L1391 185 L1391 208 L1386 209 Z" fill="#f2f2f2" stroke="#222" stroke-width="0.8"/>
 <rect x="1386.5" y="190" width="2" height="3" fill="#222"/>
 <path d="M1391 185 L1395 186 L1395 208 L1391 208 Z" fill="#111"/>
 <path d="M1395 186 L1409 189 L1409 206 L1395 208 Z" fill="#f4f4f4" stroke="#333" stroke-width="0.6"/>
 <path d="M1397 190 L1407 191.5 L1407 194 L1397 193 Z M1397 196 L1407 197 L1407 199.5 L1397 199 Z M1397 202 L1407 202.5 L1407 205 L1397 205.5 Z" fill="#1a1a1a"/>
</g>
<use href="#dmp" x="-6" y="64.5"/>
<!-- valve icon -->
<rect x="1636" y="186" width="8" height="5" fill="#7a8aa0"/>
<rect x="1636.5" y="190" width="7" height="10" fill="url(#brass)"/>
<rect x="1638" y="191" width="2" height="8" fill="#3a3a6a"/>
<rect x="1626.5" y="199" width="27" height="7" rx="1.5" fill="url(#brass)"/>
<rect x="1633" y="197" width="14" height="11" rx="1" fill="url(#brass)"/>
<!-- co2 sensor icon -->
<path d="M1623 253 Q1623 251 1626 251 L1638 251 Q1641 251 1641 253 L1641 258 L1623 258 Z" fill="#f2f4f6"/>
<rect x="1629" y="258" width="6" height="17" fill="#e8ecf0"/>
<rect x="1631" y="258" width="2" height="17" fill="#ffffff"/>
<!-- thermometer -->
<g fill="none" stroke="#10203a" stroke-width="1.8">
 <path d="M1265 320 Q1265 317.5 1267.5 317.5 Q1270 317.5 1270 320 L1270 331 A4.3 4.3 0 1 1 1265 331 Z"/>
 <path d="M1273 321 L1279 321 M1276 318 L1276 327 M1273.5 318.5 L1278.5 325 M1278.5 318.5 L1273.5 325" stroke-width="1.3"/>
</g>
<circle cx="1267.5" cy="334.5" r="2" fill="#10203a"/>
<!-- power -->
<circle cx="1414" cy="328.6" r="9" fill="#2ad0f0" opacity="0.5"/>
<circle cx="1414" cy="328.6" r="7.8" fill="#17222e"/>
<path d="M1411 325.5 A4.2 4.2 0 1 0 1417 325.5" fill="none" stroke="#4fd8ea" stroke-width="1.4"/>
<line x1="1414" y1="323.3" x2="1414" y2="328.5" stroke="#4fd8ea" stroke-width="1.4"/>
<!-- clock -->
<circle cx="1509.8" cy="328" r="10.8" fill="none" stroke="#0c1a30" stroke-width="2"/>
<path d="M1509.8 320 L1509.8 328.5 L1515 333" fill="none" stroke="#0c1a30" stroke-width="1.8"/>
<!-- snowflake -->
<circle cx="1641.5" cy="328.5" r="10" fill="url(#snowB)" stroke="#c8d0d8" stroke-width="0.8"/>
<g stroke="#5aa8e8" stroke-width="1.3"><line x1="1641.5" y1="322" x2="1641.5" y2="335"/><line x1="1635.9" y1="325.2" x2="1647.1" y2="331.8"/><line x1="1635.9" y1="331.8" x2="1647.1" y2="325.2"/></g>
</svg>
<div class="note" style="top:791px;color:#eef2f7;letter-spacing:0.15px">备注：风阀水阀控制按钮的控制信号为0 - 100%：例如：给定数值50，则开度为50%：仅手动开启风阀水阀时，</div>
<div class="note" style="top:809.5px;color:#eef2f7;letter-spacing:0.15px">才进行设置，如手动调节过后，下次进行自动控制时，需进行复位操作：一般情况下无需设置，程序会自动控制。</div>
<div class="note" style="top:828px;color:#f0a05a;letter-spacing:0.25px">CO2二氧化碳浓度设定参考：①＞350ppm一般室外空气 ②＞450ppm可以接受的水平 ③＞700ppm感觉空气污浊</div>
<div class="note" style="top:846.5px;color:#f0a05a;letter-spacing:0.3px">④＞1000ppm感觉困倦 ⑤＞2000ppm对健康不利，根据以上参考设定CO2，以此来自动控制新风。</div>
<div class="t" style="left:1512px;top:815.5px;font-size:20px;color:#8fa9c4;line-height:24px">激活 Windows</div>
<div class="t" style="left:1512px;top:841.5px;font-size:14px;letter-spacing:0.6px;color:#8fa9c4;line-height:18px">转到“设置”以激活 Windows。</div>
</body></html>
